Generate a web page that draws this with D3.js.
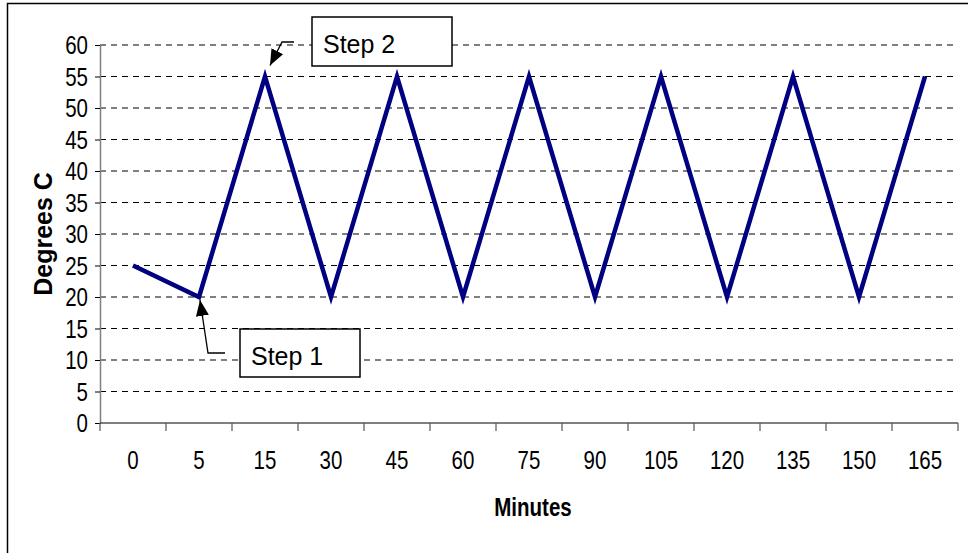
<!DOCTYPE html>
<html>
<head>
<meta charset="utf-8">
<script src="https://cdn.jsdelivr.net/npm/d3@7"></script>
<style>
  body { margin: 0; background: #fff; }
  svg { display: block; }
</style>
</head>
<body>
<div id="chart"></div>
<script>
// data
var minutes = ["0", "5", "15", "30", "45", "60", "75", "90", "105", "120", "135", "150", "165"];
var degrees = [25, 20, 55, 20, 55, 20, 55, 20, 55, 20, 55, 20, 55];
var yTicks = [0, 5, 10, 15, 20, 25, 30, 35, 40, 45, 50, 55, 60];
var notes = [
  {label: "Step 1", at: "5",  value: 20},
  {label: "Step 2", at: "15", value: 55}
];

var w = 968, h = 553,
    plotLeft = 100, plotRight = 958,
    plotTop = 45, plotBottom = 423;

var font = "'Liberation Sans', Arial, sans-serif";
var squeeze = 0.82; // the original text is horizontally compressed

var svg = d3.select("#chart").append("svg")
  .attr("width", w)
  .attr("height", h);

// outer chart border (right/bottom edges are cut off in the original)
svg.append("rect")
  .attr("x", 7.5).attr("y", 3.5)
  .attr("width", 1000).attr("height", 600)
  .attr("fill", "#fff")
  .attr("stroke", "#000")
  .attr("stroke-width", 1.5);

var x = d3.scaleBand().domain(minutes).range([plotLeft, plotRight]).padding(0);
var y = d3.scaleLinear().domain([0, 60]).range([plotBottom, plotTop]);
var bw = x.bandwidth();

// dashed gridlines
svg.append("g").selectAll("line")
  .data(yTicks.filter(function(d){ return d > 0; }))
  .enter().append("line")
  .attr("x1", plotLeft).attr("x2", plotRight)
  .attr("y1", function(d){ return y(d); })
  .attr("y2", function(d){ return y(d); })
  .attr("stroke", "#000")
  .attr("stroke-width", 1)
  .attr("stroke-dasharray", "6,5");

// y axis
var yAxis = d3.axisLeft(y).tickValues(yTicks).tickSize(5).tickFormat("").tickSizeOuter(0);
var gy = svg.append("g")
  .attr("transform", "translate(" + plotLeft + ",0)")
  .call(yAxis);
gy.select(".domain").attr("stroke", "#808080").attr("stroke-width", 1.5);
gy.selectAll(".tick line").attr("stroke", "#000");

svg.append("g").selectAll("text")
  .data(yTicks)
  .enter().append("text")
  .attr("transform", function(d){ return "translate(88," + (y(d) + 9) + ") scale(" + squeeze + ",1)"; })
  .attr("text-anchor", "end")
  .attr("font-family", font)
  .attr("font-size", 25)
  .text(function(d){ return d; });

// x axis: line, ticks on band edges, labels centred
svg.append("line")
  .attr("x1", plotLeft).attr("x2", plotRight)
  .attr("y1", plotBottom).attr("y2", plotBottom)
  .attr("stroke", "#000").attr("stroke-width", 1.2);

var edges = minutes.map(function(d){ return x(d); });
edges.push(plotRight);
svg.append("g").selectAll("line")
  .data(edges)
  .enter().append("line")
  .attr("x1", function(d){ return d; })
  .attr("x2", function(d){ return d; })
  .attr("y1", plotBottom).attr("y2", plotBottom + 8)
  .attr("stroke", "#555")
  .attr("stroke-width", 1.2);

svg.append("g").selectAll("text")
  .data(minutes)
  .enter().append("text")
  .attr("transform", function(d){ return "translate(" + (x(d) + bw / 2) + "," + (plotBottom + 46) + ") scale(" + squeeze + ",1)"; })
  .attr("text-anchor", "middle")
  .attr("font-family", font)
  .attr("font-size", 25)
  .text(function(d){ return d; });

// axis titles
svg.append("text")
  .attr("transform", "translate(533,516) scale(" + squeeze + ",1)")
  .attr("text-anchor", "middle")
  .attr("font-family", font)
  .attr("font-weight", "bold")
  .attr("font-size", 25)
  .text("Minutes");

svg.append("text")
  .attr("transform", "translate(52,234) rotate(-90)")
  .attr("text-anchor", "middle")
  .attr("font-family", font)
  .attr("font-weight", "bold")
  .attr("font-size", 25)
  .text("Degrees C");

// the temperature line
var line = d3.line()
  .x(function(d, i){ return x(minutes[i]) + bw / 2; })
  .y(function(d){ return y(d); });

svg.append("path")
  .datum(degrees)
  .attr("fill", "none")
  .attr("stroke", "#000080")
  .attr("stroke-width", 4.5)
  .attr("stroke-linejoin", "miter")
  .attr("d", line);

// callouts
svg.append("defs").append("marker")
  .attr("id", "arrow")
  .attr("viewBox", "0 0 16 13")
  .attr("refX", 16).attr("refY", 6.5)
  .attr("markerWidth", 16).attr("markerHeight", 13)
  .attr("markerUnits", "userSpaceOnUse")
  .attr("orient", "auto")
  .append("path")
  .attr("d", "M0,0L16,6.5L0,13Z")
  .attr("fill", "#000");

function callout(n, box, elbow, tail, tip){
  svg.append("path")
    .attr("d", "M" + tail[0] + "," + tail[1] + "L" + elbow[0] + "," + elbow[1] + "L" + tip[0] + "," + tip[1])
    .attr("fill", "none")
    .attr("stroke", "#000")
    .attr("stroke-width", 1.3)
    .attr("marker-end", "url(#arrow)");
  svg.append("rect")
    .attr("x", box[0]).attr("y", box[1])
    .attr("width", box[2]).attr("height", box[3])
    .attr("fill", "#fff")
    .attr("stroke", "#000")
    .attr("stroke-width", 1.5);
  svg.append("text")
    .attr("x", box[0] + 11).attr("y", box[1] + 36)
    .attr("font-family", font)
    .attr("font-size", 25)
    .text(n.label);
}

var n1 = notes[0], n2 = notes[1];
var tip1 = [x(n1.at) + bw / 2 + 1, y(n1.value) + 3];
callout(n1, [240, 329, 120, 48], [208, 353], [225, 353], tip1);

var tip2 = [x(n2.at) + bw / 2 + 5, y(n2.value) - 11];
callout(n2, [312, 17, 140, 49], [282, 42], [294, 42], tip2);
</script>
</body>
</html>
